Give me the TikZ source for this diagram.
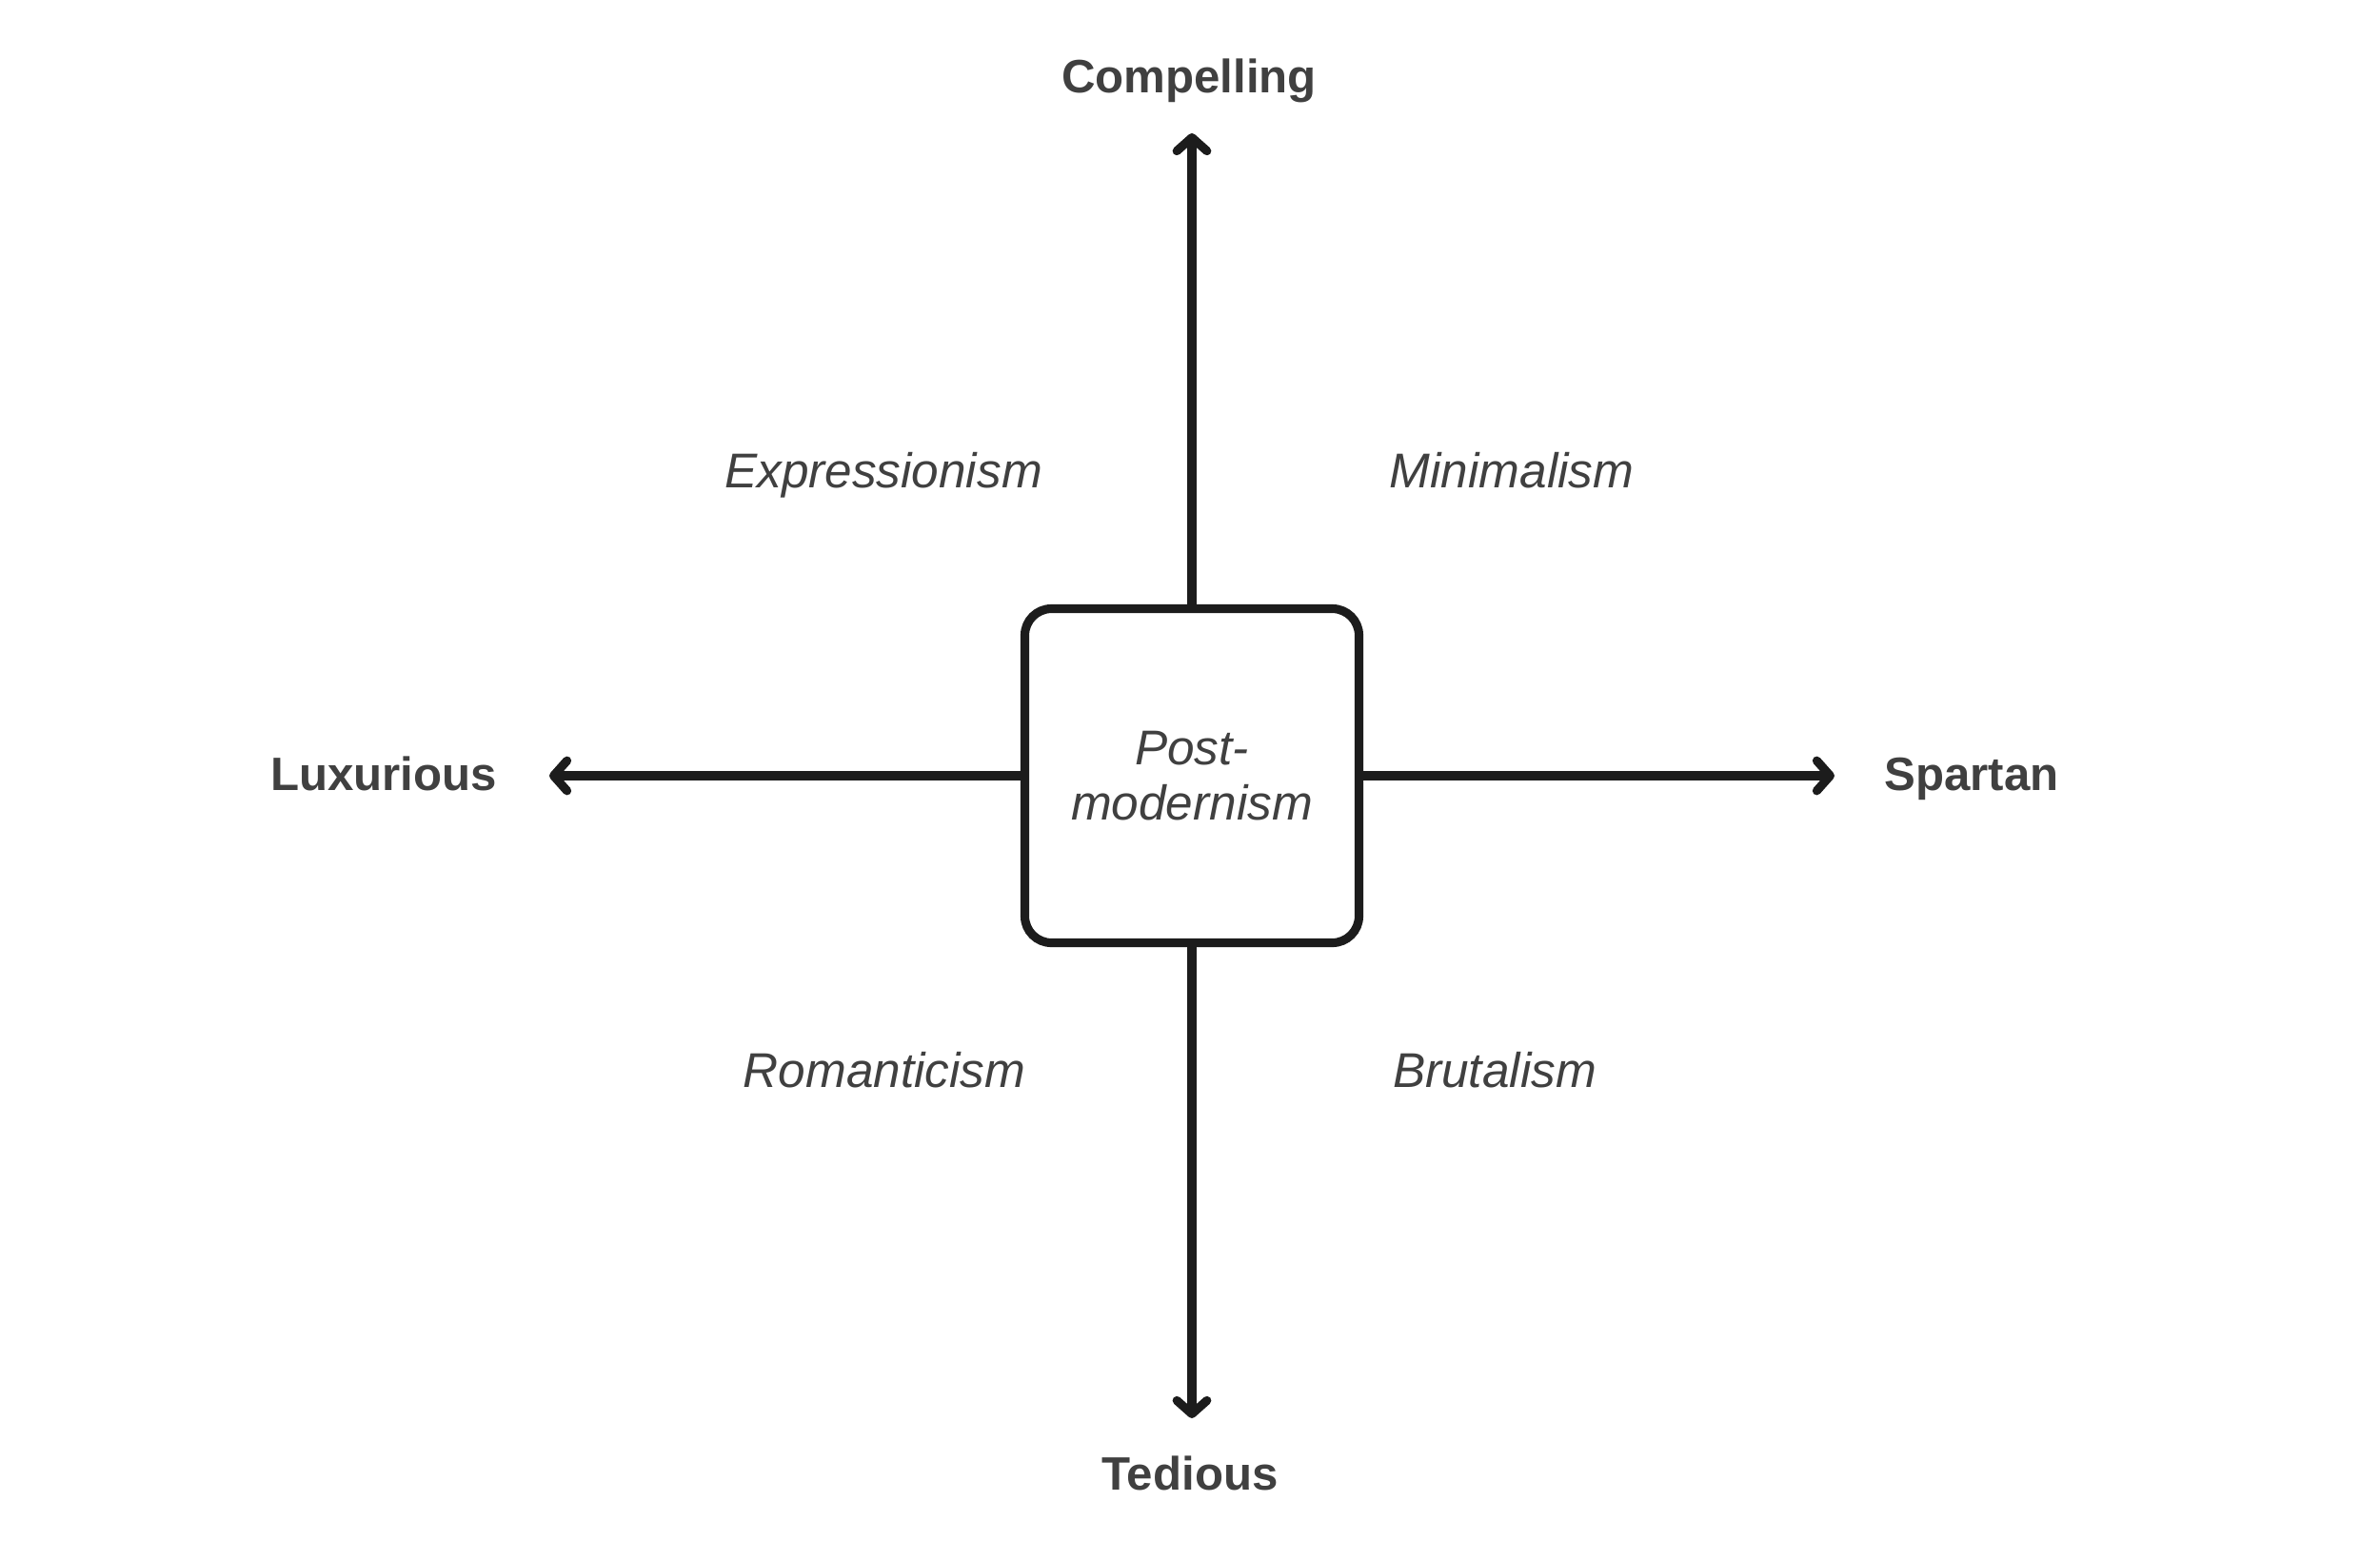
\documentclass[tikz,border=0pt]{standalone}
\usepackage{fontspec}
\setmainfont{Liberation Sans}
\usetikzlibrary{arrows.meta}

\definecolor{axis}{HTML}{1C1C1C}
\definecolor{ink}{HTML}{404040}

\tikzset{
  axisline/.style={draw=axis,line width=2.6pt,line cap=round,
    -{Straight Barb[length=4pt,width=9pt,line join=round,line cap=round]}},
  centerbox/.style={draw=axis,line width=2.6pt,rounded corners=0.28cm,
    minimum size=3.51cm,align=center,text=ink,
    font=\fontsize{14.6}{16.5}\selectfont\itshape},
  poletext/.style={anchor=base,text=ink,font=\fontsize{14}{17}\selectfont\bfseries},
  styletext/.style={anchor=base,text=ink,font=\fontsize{14.6}{17}\selectfont\itshape}
}

\begin{document}
\begin{tikzpicture}
\useasboundingbox (-12.52,-8.03) rectangle (12.48,8.15);
\def\tip{6.75}
\node[centerbox] (pm) at (0,0) {Post-\\modernism};
\coordinate (top) at (0,\tip);
\coordinate (bot) at (0,-\tip);
\coordinate (lft) at (-\tip,0);
\coordinate (rgt) at (\tip,0);
\draw[axisline] (pm.north) -- (top);
\draw[axisline] (pm.south) -- (bot);
\draw[axisline] (pm.west) -- (lft);
\draw[axisline] (pm.east) -- (rgt);
% poles
\node[poletext] (comp) at (-0.03,7.18) {Compelling};
\node[poletext] (ted) at (-0.02,-7.5) {Tedious};
\node[poletext] (lux) at (-8.49,-0.15) {Luxurious};
\node[poletext] (spa) at (8.19,-0.15) {Spartan};
% quadrants
\node[styletext] (expr) at (-3.24,3.03) {Expressionism};
\node[styletext] (mini) at (3.36,3.03) {Minimalism};
\node[styletext] (roma) at (-3.23,-3.27) {Romanticism};
\node[styletext] (brut) at (3.18,-3.27) {Brutalism};
\end{tikzpicture}
\end{document}
